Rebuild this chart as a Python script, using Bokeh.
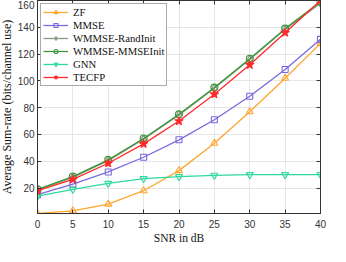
from bokeh.plotting import figure
from bokeh.models import LinearAxis, Range1d, FixedTicker, Legend, LegendItem
from bokeh.embed import file_html
from bokeh.resources import INLINE

snr = [0, 5, 10, 15, 20, 25, 30, 35, 40]
zf = [1, 3, 8, 18, 33, 53.5, 77, 102, 128]
mmse = [15, 23, 32, 43, 56, 71, 88.5, 108.5, 131]
wmmse_rand = [18.5, 28, 40.5, 56.5, 74.5, 94.5, 116, 138.5, 158]
wmmse_mmse = [19, 28.5, 41, 57, 75, 95, 116.5, 139, 159]
gnn = [14, 19, 23.5, 27, 28.5, 29.5, 30, 30, 30]
tecfp = [18, 26.5, 38.5, 53, 70, 90, 112, 136, 160]
y_ticks = [20, 40, 60, 80, 100, 120, 140, 160]
x_ticks = [0, 5, 10, 15, 20, 25, 30, 35, 40]

p = figure(width=334, height=246, output_backend="svg", toolbar_location=None,
           x_range=Range1d(0, 40), y_range=Range1d(1, 160),
           min_border_left=37, min_border_right=10, min_border_top=0, min_border_bottom=0)
p.styles = {"margin-left": "-4px"}

series = [
    ("ZF", zf, "#FFA62F", "triangle", 7),
    ("MMSE", mmse, "#7A6AE0", "square", 6),
    ("WMMSE-RandInit", wmmse_rand, "#8A9A84", "diamond", 8),
    ("WMMSE-MMSEInit", wmmse_mmse, "#3C963C", "circle", 7),
    ("GNN", gnn, "#2FD8A0", "inverted_triangle", 7),
    ("TECFP", tecfp, "#FF2A2A", "star", 9),
]
items = []
for name, ys, col, mk, sz in series:
    r1 = p.line(snr, ys, line_color=col, line_width=1.3)
    fill = col if mk == "star" else None
    r2 = p.scatter(snr, ys, marker=mk, size=sz, line_color=col, fill_color=fill,
                   line_width=1.1)
    items.append(LegendItem(label=name, renderers=[r1, r2]))

for ax in p.xaxis + p.yaxis:
    ax.major_label_text_font = "Liberation Sans"
    ax.major_label_text_font_size = "10px"
    ax.major_label_text_color = "#333333"
    ax.axis_line_color = "#333333"
    ax.major_tick_line_color = "#333333"
    ax.major_tick_in = 4
    ax.major_tick_out = 0
    ax.minor_tick_line_color = None
    ax.axis_label_text_font = "Liberation Serif"
    ax.axis_label_text_font_style = "normal"
    ax.axis_label_text_color = "#111111"

p.xaxis.ticker = FixedTicker(ticks=x_ticks)
p.yaxis.ticker = FixedTicker(ticks=y_ticks)
p.xaxis.axis_label = "SNR in dB"
p.yaxis.axis_label = "Average Sum-rate (bits/channel use)"
p.xaxis.axis_label_text_font_size = "11.5px"
p.yaxis.axis_label_text_font_size = "12px"
p.xaxis.axis_label_standoff = 1
p.yaxis.axis_label_standoff = 1
p.xaxis.major_label_standoff = 6
p.yaxis.major_label_standoff = 3

top = LinearAxis(ticker=FixedTicker(ticks=x_ticks), major_label_text_font_size="0px",
                 major_label_standoff=0, axis_label_standoff=0,
                 major_tick_in=4, major_tick_out=0, minor_tick_line_color=None,
                 axis_line_color="#333333", major_tick_line_color="#333333")
right = LinearAxis(ticker=FixedTicker(ticks=y_ticks), major_label_text_font_size="0px",
                   major_label_standoff=0, axis_label_standoff=0,
                   major_tick_in=4, major_tick_out=0, minor_tick_line_color=None,
                   axis_line_color="#333333", major_tick_line_color="#333333")
p.add_layout(top, "above")
p.add_layout(right, "right")

p.xgrid.ticker = FixedTicker(ticks=x_ticks)
p.ygrid.ticker = FixedTicker(ticks=y_ticks)
p.grid.grid_line_color = "#e6e6e6"
p.outline_line_color = "#333333"

legend = Legend(items=items, location="top_left")
legend.label_text_font = "Liberation Serif"
legend.label_text_font_size = "10.7px"
legend.label_text_color = "#111111"
legend.glyph_width = 25
legend.glyph_height = 10
legend.label_height = 10
legend.spacing = 1
legend.padding = 2
legend.margin = 3
legend.label_standoff = 5
legend.border_line_color = "#555555"
legend.border_line_width = 1
p.add_layout(legend)

open("out.html", "w").write(file_html(p, INLINE))
